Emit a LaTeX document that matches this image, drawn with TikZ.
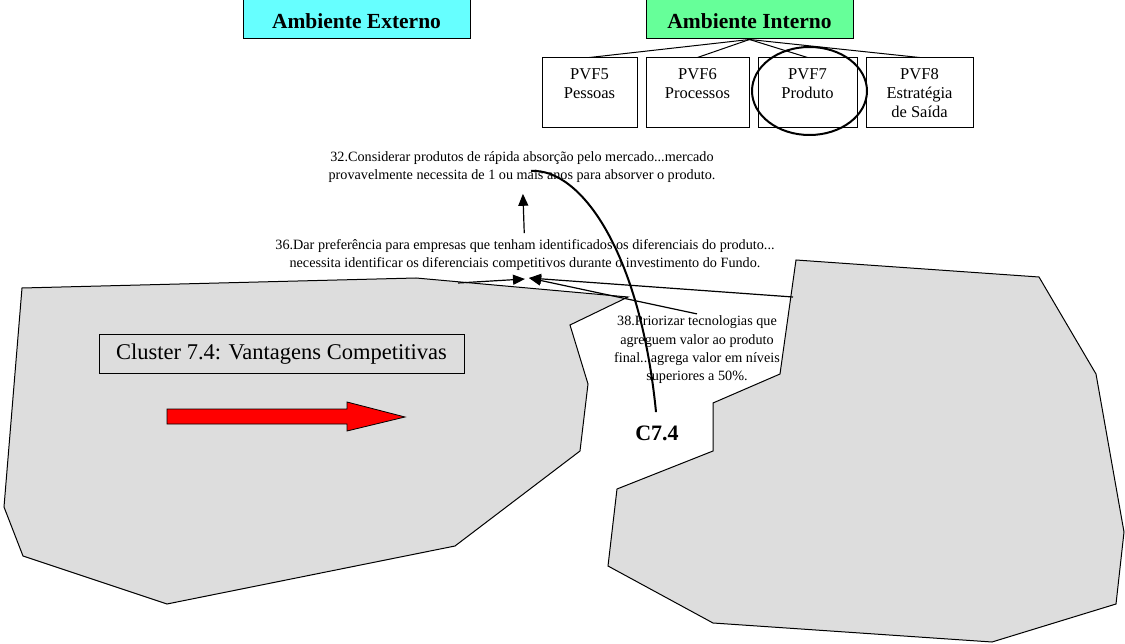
\documentclass[tikz,border=0pt]{standalone}
\usepackage{fontspec}
\setmainfont{Liberation Serif}
\usetikzlibrary{arrows.meta,shapes.geometric,positioning,calc}

\definecolor{extcyan}{RGB}{102,255,255}
\definecolor{intgreen}{RGB}{102,255,153}
\definecolor{clgray}{RGB}{221,221,221}

\tikzset{
  amb/.style={draw,line width=1pt,minimum width=227pt,minimum height=42pt,text height=22pt,
    font=\fontsize{21.5}{24}\selectfont\bfseries},
  pvf/.style={draw,line width=1pt,minimum width=99pt,minimum height=70pt,align=center,inner sep=0pt,
    font=\fontsize{16.5}{19}\selectfont,execute at begin node={\rule{0pt}{19pt}}},
  note/.style={align=center,inner sep=2pt,font=\fontsize{14.2}{18.3}\selectfont},
  region/.style={draw,line width=1pt,fill=clgray},
  link/.style={->,line width=1.2pt}
}

\begin{document}
\begin{tikzpicture}[x=1pt,y=-1pt,>={Triangle[length=12pt,width=10pt]}]
\useasboundingbox[fill=white] (0,0) rectangle (1125,644);

% the two cluster regions
\draw[region] (22,288) -- (416,278) -- (628,297) -- (570,325) -- (588,384) -- (580,451)
  -- (455,546) -- (167,604) -- (23,556) -- (4,507) -- cycle;
\draw[region] (796,260) -- (1039,277) -- (1096,374) -- (1124,532) -- (1116,604) -- (992,642)
  -- (713,623) -- (608,566) -- (617,489) -- (713,451) -- (713,403) -- (780,374) -- cycle;

% environments
\node[amb,fill=extcyan] (ext) at (356.5,18) {Ambiente Externo};
\node[amb,fill=intgreen,minimum width=207pt] (int) at (749.5,18) {Ambiente Interno};

\node[pvf,minimum width=95pt] (p5) at (589.5,93) {PVF5\\Pessoas\\\mbox{}};
\node[pvf,minimum width=103pt] (p6) at (697.5,93) {PVF6\\Processos\\\mbox{}};
\node[pvf] (p7) at (807.5,93) {PVF7\\Produto\\\mbox{}};
\node[pvf,minimum width=107pt] (p8) at (919.5,93) {PVF8\\Estratégia\\de Saída};
\foreach \b in {p5,p6,p7,p8}
  \draw[line width=1pt] (int.south) -- (\b.north);
\node[draw,ellipse,line width=2pt,minimum width=115pt,minimum height=88pt] (ring) at (809.5,91) {};

% statements
\node[note] (n32) at (522,167) {32.Considerar produtos de rápida absorção pelo mercado...mercado\\
  provavelmente necessita de 1 ou mais anos para absorver o produto.};
\node[note] (n36) at (525,255) {36.Dar preferência para empresas que tenham identificados os diferenciais do produto...\\
  necessita identificar os diferenciais competitivos durante o investimento do Fundo.};
\node[note] (n38) at (697,350) {38.Priorizar tecnologias que\\agreguem valor ao produto\\
  final...agrega valor em níveis\\superiores a 50\%.};
\node[font=\fontsize{22}{26}\selectfont\bfseries] (c74) at (657,433) {C7.4};

\node[draw,line width=1pt,fill=clgray,minimum width=365pt,minimum height=39pt,
  font=\fontsize{22.5}{26}\selectfont] (clus) at (281.5,354.5) {Cluster 7.4: Vantagens Competitivas};
\draw[fill=red,line width=0.8pt] (167,409) -- (347,409) -- (347,402) -- (405,417) -- (347,431)
  -- (347,424) -- (167,424) -- cycle;

% links between statements
\coordinate (rimL) at (458,283);
\coordinate (hitL) at (525,279);
\coordinate (hitR) at (529,278);
\coordinate (rimR) at (793,297);
\coordinate (crvend) at (531,171);
\draw[link,shorten <=4pt,shorten >=9pt] (n36) -- (n32);
\draw[link] (rimL) -- (hitL);
\draw[link] (n38.north) -- (hitR);
\draw[link] (rimR) -- (hitR);
\draw[line width=2pt,shorten <=10pt] (c74.north) .. controls (640,250) and (580,168) .. (crvend);
\end{tikzpicture}
\end{document}
